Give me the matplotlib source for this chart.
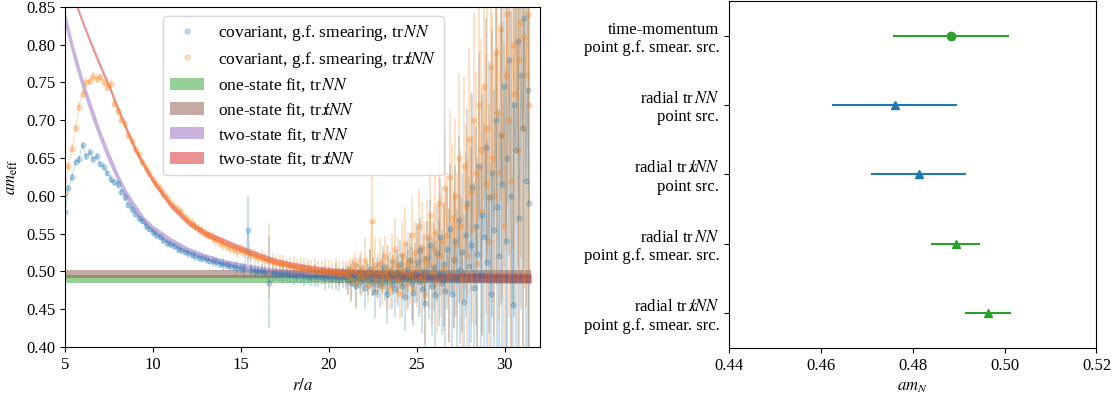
import numpy as np
import matplotlib
matplotlib.use("Agg")
import matplotlib.pyplot as plt
from matplotlib.lines import Line2D

plt.rcParams['font.family'] = ['Liberation Serif', 'DejaVu Serif']
plt.rcParams['mathtext.fontset'] = 'stix'
plt.rcParams['font.size'] = 12

# radial distances of the effective-mass points
r_vals = np.concatenate([5.0 + 0.2 * np.arange(80), np.linspace(21.0, 31.4, 110)])

# covariant, g.f. smearing, tr NN
blue_val = [
    0.578, 0.610, 0.625, 0.645, 0.648, 0.667, 0.652, 0.658, 0.648, 0.652,
    0.642, 0.638, 0.630, 0.622, 0.618, 0.615, 0.605, 0.598, 0.588, 0.582,
    0.576, 0.570, 0.566, 0.560, 0.556, 0.552, 0.548, 0.545, 0.541, 0.538,
    0.536, 0.533, 0.530, 0.528, 0.526, 0.524, 0.522, 0.520, 0.518, 0.517,
    0.516, 0.514, 0.513, 0.512, 0.510, 0.509, 0.508, 0.507, 0.506, 0.505,
    0.504, 0.503, 0.555, 0.502, 0.501, 0.500, 0.500, 0.499, 0.485, 0.498,
    0.497, 0.497, 0.496, 0.496, 0.495, 0.495, 0.494, 0.495, 0.494, 0.493,
    0.493, 0.494, 0.492, 0.493, 0.491, 0.492, 0.490, 0.493, 0.489, 0.492,
    0.492, 0.488, 0.495, 0.484, 0.497, 0.490, 0.480, 0.494, 0.499, 0.486,
    0.491, 0.478, 0.496, 0.489, 0.503, 0.485, 0.493, 0.472, 0.498, 0.488,
    0.482, 0.495, 0.506, 0.486, 0.470, 0.492, 0.501, 0.483, 0.495, 0.477,
    0.499, 0.488, 0.510, 0.481, 0.493, 0.466, 0.503, 0.490, 0.515, 0.484,
    0.471, 0.498, 0.512, 0.486, 0.528, 0.476, 0.500, 0.458, 0.517, 0.492,
    0.535, 0.480, 0.506, 0.468, 0.524, 0.497, 0.545, 0.485, 0.510, 0.474,
    0.530, 0.495, 0.556, 0.470, 0.515, 0.540, 0.488, 0.568, 0.502, 0.525,
    0.460, 0.548, 0.590, 0.507, 0.535, 0.612, 0.478, 0.560, 0.523, 0.640,
    0.495, 0.575, 0.545, 0.665, 0.512, 0.598, 0.470, 0.630, 0.555, 0.700,
    0.585, 0.520, 0.680, 0.615, 0.745, 0.540, 0.650, 0.780, 0.600, 0.455,
    0.720, 0.660, 0.805, 0.570, 0.760, 0.690, 0.835, 0.620, 0.740, 0.590,
]
blue_err = [
    0.004, 0.004, 0.005, 0.004, 0.005, 0.004, 0.005, 0.004, 0.005, 0.004,
    0.004, 0.005, 0.004, 0.005, 0.004, 0.006, 0.004, 0.005, 0.004, 0.005,
    0.004, 0.005, 0.004, 0.005, 0.004, 0.005, 0.005, 0.004, 0.005, 0.005,
    0.005, 0.005, 0.006, 0.005, 0.005, 0.006, 0.005, 0.006, 0.005, 0.006,
    0.006, 0.005, 0.007, 0.006, 0.006, 0.008, 0.006, 0.007, 0.006, 0.008,
    0.007, 0.008, 0.045, 0.007, 0.009, 0.008, 0.010, 0.008, 0.060, 0.011,
    0.009, 0.010, 0.012, 0.009, 0.011, 0.013, 0.010, 0.012, 0.014, 0.011,
    0.012, 0.015, 0.013, 0.011, 0.016, 0.014, 0.013, 0.018, 0.015, 0.014,
    0.015, 0.020, 0.012, 0.025, 0.018, 0.014, 0.030, 0.016, 0.022, 0.019,
    0.017, 0.028, 0.015, 0.021, 0.026, 0.018, 0.024, 0.035, 0.020, 0.023,
    0.030, 0.022, 0.027, 0.025, 0.040, 0.028, 0.024, 0.033, 0.026, 0.038,
    0.029, 0.035, 0.031, 0.042, 0.030, 0.045, 0.034, 0.038, 0.036, 0.048,
    0.044, 0.040, 0.052, 0.047, 0.043, 0.058, 0.050, 0.062, 0.049, 0.055,
    0.060, 0.066, 0.058, 0.072, 0.064, 0.070, 0.078, 0.069, 0.082, 0.075,
    0.080, 0.088, 0.085, 0.095, 0.090, 0.100, 0.094, 0.110, 0.098, 0.105,
    0.115, 0.108, 0.125, 0.118, 0.130, 0.122, 0.140, 0.132, 0.128, 0.150,
    0.145, 0.160, 0.150, 0.170, 0.162, 0.180, 0.175, 0.190, 0.185, 0.200,
    0.210, 0.195, 0.225, 0.215, 0.240, 0.230, 0.250, 0.260, 0.245, 0.270,
    0.280, 0.290, 0.300, 0.285, 0.310, 0.320, 0.330, 0.305, 0.340, 0.350,
]

# covariant, g.f. smearing, tr xslash NN
orange_val = [
    0.604, 0.640, 0.662, 0.690, 0.718, 0.735, 0.750, 0.752, 0.758, 0.755,
    0.757, 0.750, 0.744, 0.748, 0.722, 0.712, 0.700, 0.695, 0.680, 0.672,
    0.662, 0.655, 0.645, 0.637, 0.630, 0.622, 0.615, 0.610, 0.603, 0.598,
    0.592, 0.587, 0.582, 0.578, 0.572, 0.568, 0.564, 0.560, 0.556, 0.553,
    0.550, 0.547, 0.544, 0.541, 0.538, 0.536, 0.533, 0.531, 0.529, 0.527,
    0.528, 0.526, 0.524, 0.522, 0.520, 0.518, 0.517, 0.515, 0.514, 0.512,
    0.511, 0.510, 0.509, 0.508, 0.507, 0.506, 0.505, 0.504, 0.503, 0.503,
    0.502, 0.501, 0.500, 0.501, 0.499, 0.500, 0.498, 0.499, 0.497, 0.498,
    0.497, 0.492, 0.503, 0.488, 0.500, 0.510, 0.485, 0.498, 0.494, 0.505,
    0.490, 0.515, 0.496, 0.482, 0.502, 0.566, 0.493, 0.508, 0.487, 0.499,
    0.512, 0.480, 0.497, 0.520, 0.491, 0.505, 0.476, 0.514, 0.498, 0.530,
    0.489, 0.507, 0.470, 0.522, 0.501, 0.538, 0.484, 0.512, 0.495, 0.548,
    0.478, 0.525, 0.505, 0.560, 0.490, 0.532, 0.515, 0.468, 0.545, 0.508,
    0.575, 0.498, 0.530, 0.552, 0.485, 0.590, 0.520, 0.540, 0.505, 0.610,
    0.548, 0.495, 0.625, 0.570, 0.515, 0.600, 0.535, 0.650, 0.560, 0.490,
    0.640, 0.585, 0.520, 0.675, 0.605, 0.555, 0.700, 0.630, 0.510, 0.720,
    0.660, 0.580, 0.745, 0.615, 0.690, 0.540, 0.770, 0.650, 0.600, 0.790,
    0.710, 0.630, 0.820, 0.680, 0.560, 0.760, 0.840, 0.700, 0.620, 0.800,
    0.735, 0.855, 0.660, 0.780, 0.830, 0.690, 0.810, 0.760, 0.840, 0.720,
]
orange_err = [
    0.006, 0.005, 0.006, 0.005, 0.006, 0.005, 0.006, 0.005, 0.006, 0.006,
    0.005, 0.006, 0.005, 0.006, 0.005, 0.006, 0.005, 0.006, 0.005, 0.006,
    0.005, 0.006, 0.005, 0.005, 0.006, 0.005, 0.006, 0.005, 0.006, 0.005,
    0.006, 0.005, 0.006, 0.006, 0.005, 0.006, 0.006, 0.007, 0.006, 0.007,
    0.007, 0.006, 0.008, 0.007, 0.007, 0.009, 0.007, 0.008, 0.007, 0.009,
    0.008, 0.009, 0.010, 0.008, 0.010, 0.009, 0.011, 0.009, 0.050, 0.012,
    0.010, 0.011, 0.013, 0.010, 0.012, 0.014, 0.011, 0.013, 0.015, 0.012,
    0.013, 0.016, 0.014, 0.012, 0.017, 0.015, 0.014, 0.019, 0.016, 0.015,
    0.016, 0.022, 0.014, 0.027, 0.019, 0.016, 0.032, 0.018, 0.024, 0.021,
    0.019, 0.030, 0.017, 0.023, 0.028, 0.060, 0.026, 0.037, 0.022, 0.025,
    0.032, 0.024, 0.029, 0.027, 0.042, 0.030, 0.026, 0.035, 0.028, 0.040,
    0.031, 0.037, 0.033, 0.044, 0.032, 0.047, 0.036, 0.040, 0.038, 0.050,
    0.046, 0.042, 0.054, 0.049, 0.045, 0.060, 0.052, 0.064, 0.051, 0.057,
    0.062, 0.068, 0.060, 0.074, 0.066, 0.072, 0.080, 0.071, 0.084, 0.077,
    0.082, 0.090, 0.087, 0.097, 0.092, 0.102, 0.096, 0.112, 0.100, 0.107,
    0.117, 0.110, 0.127, 0.120, 0.132, 0.124, 0.142, 0.134, 0.130, 0.152,
    0.147, 0.162, 0.152, 0.172, 0.164, 0.182, 0.177, 0.192, 0.187, 0.202,
    0.212, 0.197, 0.227, 0.217, 0.242, 0.232, 0.252, 0.262, 0.247, 0.272,
    0.282, 0.292, 0.302, 0.287, 0.312, 0.322, 0.332, 0.307, 0.342, 0.352,
]

# fit bands
r_band = [5.0, 5.5, 6.0, 6.5, 7.0, 7.5, 8.0, 8.5, 9.0, 9.5, 10.0, 11.0, 12.0, 13.0,
          14.0, 15.0, 16.0, 17.0, 18.0, 19.0, 20.0, 22.0, 24.0, 26.0, 28.0, 30.0, 31.5]
two_state_nn = [0.835, 0.788, 0.748, 0.713, 0.680, 0.651, 0.624, 0.601, 0.583, 0.567,
                0.556, 0.540, 0.528, 0.519, 0.512, 0.507, 0.503, 0.500, 0.498, 0.496,
                0.495, 0.493, 0.492, 0.491, 0.491, 0.490, 0.490]
two_state_nn_err = [0.010, 0.009, 0.008, 0.008, 0.007, 0.007, 0.006, 0.006, 0.006, 0.005,
                    0.005, 0.005, 0.004, 0.004, 0.004, 0.004, 0.004, 0.004, 0.004, 0.004,
                    0.004, 0.005, 0.005, 0.006, 0.006, 0.006, 0.006]
two_state_xnn = [0.895, 0.862, 0.830, 0.800, 0.772, 0.745, 0.716, 0.688, 0.661, 0.640,
                 0.620, 0.588, 0.565, 0.550, 0.540, 0.530, 0.521, 0.513, 0.508, 0.504,
                 0.501, 0.497, 0.495, 0.493, 0.492, 0.492, 0.491]
two_state_xnn_err = [0.004, 0.004, 0.004, 0.004, 0.004, 0.004, 0.004, 0.004, 0.004, 0.004,
                     0.004, 0.004, 0.004, 0.004, 0.004, 0.004, 0.004, 0.004, 0.004, 0.004,
                     0.004, 0.005, 0.005, 0.005, 0.006, 0.006, 0.006]
one_state_nn = (0.4893, 0.0054)
one_state_xnn = (0.4963, 0.0050)

NN = 'tr$\\,NN$'
XNN = 'tr$\\,x\\!\\!\\!/NN$'

# right panel: nucleon mass summary
methods = ['time-momentum\npoint g.f. smear. src.',
           'radial ' + NN + '\npoint src.',
           'radial ' + XNN + '\npoint src.',
           'radial ' + NN + '\npoint g.f. smear. src.',
           'radial ' + XNN + '\npoint g.f. smear. src.']
am_N = [0.4883, 0.4761, 0.4813, 0.4893, 0.4963]
am_N_err = [0.0127, 0.0136, 0.0103, 0.0054, 0.0050]
colors = ['tab:green', 'tab:blue', 'tab:blue', 'tab:green', 'tab:green']
markers = ['o', '^', '^', '^', '^']

fig = plt.figure(figsize=(11.2, 4.01), dpi=100)
ax1 = fig.add_axes([0.058, 0.135, 0.424, 0.848])
ax2 = fig.add_axes([0.651, 0.132, 0.328, 0.866])

ax1.errorbar(r_vals, blue_val, yerr=blue_err, fmt='o-', color='tab:blue', ms=3.5, lw=0.8,
             elinewidth=1.3, alpha=0.25)
ax1.errorbar(r_vals, orange_val, yerr=orange_err, fmt='o-', color='tab:orange', ms=3.5, lw=0.8,
             elinewidth=1.3, alpha=0.25)

r_lo, r_hi = r_band[0], r_band[-1]
b1 = ax1.fill_between([r_lo, r_hi], one_state_nn[0] - one_state_nn[1], one_state_nn[0] + one_state_nn[1],
                      color='tab:green', alpha=0.5, lw=0)
b2 = ax1.fill_between([r_lo, r_hi], one_state_xnn[0] - one_state_xnn[1], one_state_xnn[0] + one_state_xnn[1],
                      color='tab:brown', alpha=0.5, lw=0)
c = np.array(two_state_nn)
e = np.array(two_state_nn_err)
b3 = ax1.fill_between(r_band, c - e, c + e, color='tab:purple', alpha=0.5, lw=0)
c = np.array(two_state_xnn)
e = np.array(two_state_xnn_err)
b4 = ax1.fill_between(r_band, c - e, c + e, color='tab:red', alpha=0.5, lw=0)

h1 = Line2D([], [], marker='o', ms=3.5, ls='none', color='tab:blue', alpha=0.25)
h2 = Line2D([], [], marker='o', ms=3.5, ls='none', color='tab:orange', alpha=0.25)
ax1.legend([h1, h2, b1, b2, b3, b4],
           ['covariant, g.f. smearing, ' + NN, 'covariant, g.f. smearing, ' + XNN,
            'one-state fit, ' + NN, 'one-state fit, ' + XNN,
            'two-state fit, ' + NN, 'two-state fit, ' + XNN],
           loc='upper left', bbox_to_anchor=(0.206, 0.974), borderaxespad=0,
           fontsize=12.5, labelspacing=0.4)

ax1.set_xlim(5, 32)
ax1.set_ylim(0.40, 0.85)
ax1.set_xticks([5, 10, 15, 20, 25, 30])
ax1.set_yticks(np.arange(0.40, 0.851, 0.05))
ax1.set_xlabel('$r/a$')
ax1.set_ylabel('$am_{\\rm eff}$')

for i in range(len(methods)):
    ax2.errorbar(am_N[i], i, xerr=am_N_err[i], fmt=markers[i], color=colors[i], ms=6, lw=1.5)
ax2.set_yticks(range(len(methods)))
ax2.set_yticklabels(methods)
ax2.set_ylim(4.5, -0.5)
ax2.set_xlim(0.44, 0.52)
ax2.set_xticks([0.44, 0.46, 0.48, 0.50, 0.52])
ax2.set_xlabel('$am_N$')

fig.savefig('out.png', dpi=100)
